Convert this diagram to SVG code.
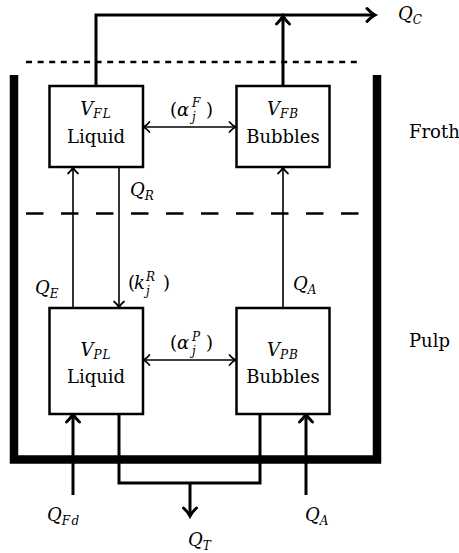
<svg xmlns="http://www.w3.org/2000/svg" width="459" height="553" viewBox="0 0 459 553" font-family="'DejaVu Serif', 'Liberation Serif', serif">
<style>
.box{fill:#fff;stroke:#000;stroke-width:2.5}
.thick{fill:none;stroke:#000;stroke-width:3;stroke-linejoin:miter}
.thin{fill:none;stroke:#000;stroke-width:1.6}
.wall{fill:none;stroke:#000;stroke-width:8.5;stroke-linejoin:miter}
.sep{fill:none;stroke:#000;stroke-width:2.6}
text{fill:#000}
.w{font-size:18px}
.m{font-size:18px;font-style:italic}
.s{font-size:12px;font-style:italic}
</style>
<defs>
<marker id="aT" markerUnits="userSpaceOnUse" orient="auto" refX="0" refY="0" markerWidth="20" markerHeight="20" overflow="visible">
<path d="M-8,-6.5 C-5,-3.2 -1.5,-0.8 0,0 C-1.5,0.8 -5,3.2 -8,6.5" fill="none" stroke="#000" stroke-width="3" stroke-linecap="round"/>
</marker>
<marker id="aS" markerUnits="userSpaceOnUse" orient="auto-start-reverse" refX="0" refY="0" markerWidth="20" markerHeight="20" overflow="visible">
<path d="M-6,-5 C-4,-2.5 -1.2,-0.6 0,0 C-1.2,0.6 -4,2.5 -6,5" fill="none" stroke="#000" stroke-width="1.7" stroke-linecap="round"/>
</marker>
</defs>

<g id="tank">
<path class="wall" d="M14,75 V459.5 H377 V75"/>
</g>
<g id="levels">
<path class="sep" d="M26,62 H359" stroke-dasharray="6 5.6"/>
<path class="sep" d="M26,213.5 H359" stroke-width="3" stroke-dasharray="17.5 17.5"/>
</g>

<g id="connectors">
<path class="thick" d="M96,85 V15 H375" marker-end="url(#aT)"/>
<path class="thick" d="M283,85 V16" marker-end="url(#aT)"/>
<path class="thick" d="M73,495 V414" marker-end="url(#aT)"/>
<path class="thick" d="M306,495 V414" marker-end="url(#aT)"/>
<path class="thick" d="M119,414 V483 H260 V414"/>
<path class="thick" d="M190,483 V516" marker-end="url(#aT)"/>
<path class="thin" d="M73,308 V167.5" marker-end="url(#aS)"/>
<path class="thin" d="M119,167 V307.5" marker-end="url(#aS)"/>
<path class="thin" d="M283,308 V167.5" marker-end="url(#aS)"/>
<path class="thin" d="M143.5,127 H235.5" marker-start="url(#aS)" marker-end="url(#aS)"/>
<path class="thin" d="M143.5,360 H235.5" marker-start="url(#aS)" marker-end="url(#aS)"/>
</g>

<g id="node-FL">
<rect class="box" x="49.5" y="86" width="93.5" height="81"/>
<text x="96" y="115" text-anchor="middle"><tspan class="m">V</tspan><tspan class="s" dy="3" letter-spacing="1">FL</tspan></text>
<text class="w" x="96" y="143" text-anchor="middle">Liquid</text>
</g>
<g id="node-FB">
<rect class="box" x="236.5" y="86" width="93" height="81"/>
<text x="283" y="115" text-anchor="middle"><tspan class="m">V</tspan><tspan class="s" dy="3" letter-spacing="1">FB</tspan></text>
<text class="w" x="283" y="143" text-anchor="middle">Bubbles</text>
</g>
<g id="node-PL">
<rect class="box" x="49.5" y="308" width="93.5" height="106"/>
<text x="96" y="356" text-anchor="middle"><tspan class="m">V</tspan><tspan class="s" dy="3" letter-spacing="1">PL</tspan></text>
<text class="w" x="96" y="383" text-anchor="middle">Liquid</text>
</g>
<g id="node-PB">
<rect class="box" x="236.5" y="308" width="93" height="106"/>
<text x="283" y="356" text-anchor="middle"><tspan class="m">V</tspan><tspan class="s" dy="3" letter-spacing="1">PB</tspan></text>
<text class="w" x="283" y="383" text-anchor="middle">Bubbles</text>
</g>

<g id="labels">
<text class="w" x="409" y="138">Froth</text>
<text class="w" x="409" y="347">Pulp</text>
<text class="w"><tspan x="170" y="116">(</tspan><tspan class="m" x="177" y="116">α</tspan><tspan class="s" x="192" y="107">F</tspan><tspan class="s" x="192" y="121">j</tspan><tspan x="206" y="116">)</tspan></text>
<text class="w"><tspan x="170" y="349">(</tspan><tspan class="m" x="177" y="349">α</tspan><tspan class="s" x="192" y="341">P</tspan><tspan class="s" x="192" y="355">j</tspan><tspan x="206" y="349">)</tspan></text>
<text class="w"><tspan x="128" y="289">(</tspan><tspan class="m" x="134" y="289">k</tspan><tspan class="s" x="146" y="281">R</tspan><tspan class="s" x="146" y="295">j</tspan><tspan x="163" y="289">)</tspan></text>
<text x="398" y="20"><tspan class="m">Q</tspan><tspan class="s" dy="4">C</tspan></text>
<text x="130" y="196"><tspan class="m">Q</tspan><tspan class="s" dy="4">R</tspan></text>
<text x="35" y="294"><tspan class="m">Q</tspan><tspan class="s" dy="4">E</tspan></text>
<text x="293" y="290"><tspan class="m">Q</tspan><tspan class="s" dy="4">A</tspan></text>
<text x="47" y="521"><tspan class="m">Q</tspan><tspan class="s" dy="4" letter-spacing="1.5">Fd</tspan></text>
<text x="305" y="521"><tspan class="m">Q</tspan><tspan class="s" dy="4">A</tspan></text>
<text x="188" y="546"><tspan class="m">Q</tspan><tspan class="s" dy="4">T</tspan></text>
</g>
</svg>
